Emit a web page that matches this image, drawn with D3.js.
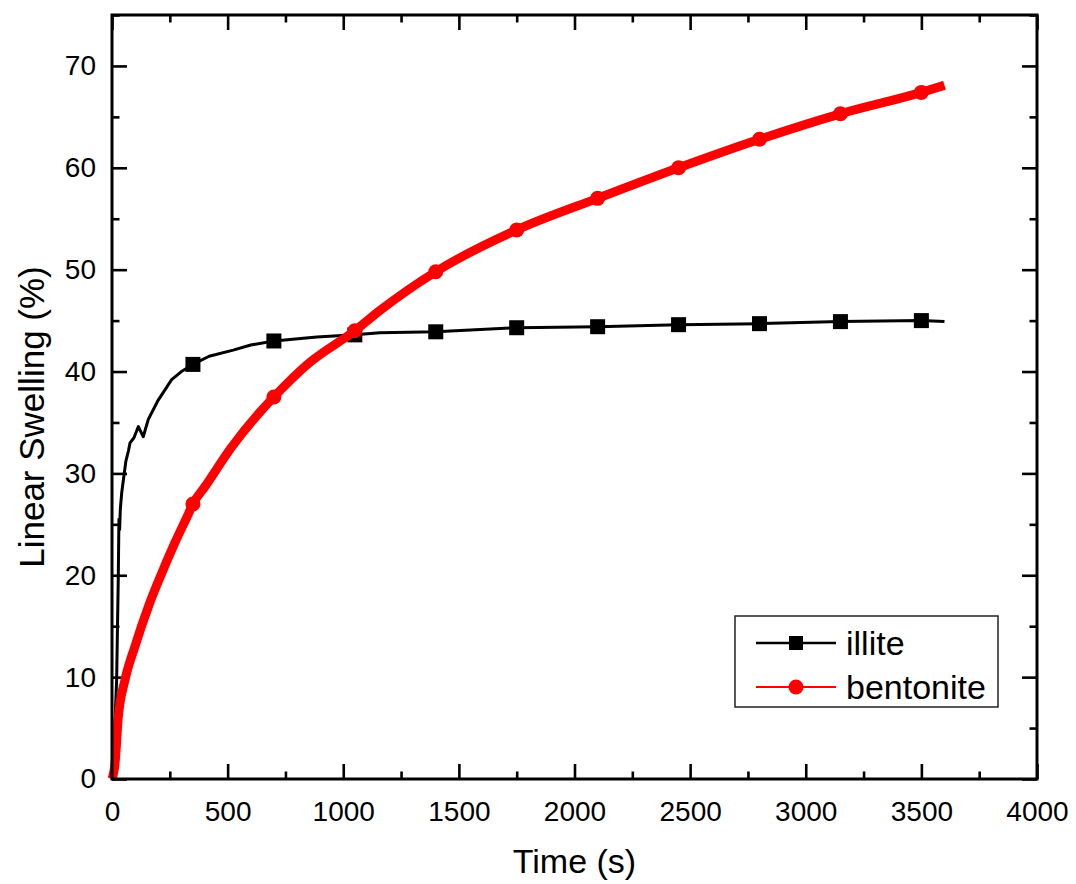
<!DOCTYPE html>
<html>
<head>
<meta charset="utf-8">
<script src="https://cdn.jsdelivr.net/npm/d3@7"></script>
<style>
  body { margin: 0; background: #fff; }
  svg { display: block; font-family: "Liberation Sans", Arial, sans-serif; }
</style>
</head>
<body>
<svg id="container"></svg>
<script>
// series (time in s, swelling in %)
const illiteTime  = [0, 5, 12, 20, 27, 30, 33, 36, 42, 50, 60, 71, 78, 95, 114, 135, 157, 200, 258, 300, 350, 420, 524, 600, 700, 886, 1050, 1159, 1400, 1750, 2100, 2450, 2800, 3150, 3500, 3600];
const illiteValue = [0, 0.5, 5, 9.7, 19.5, 25.5, 24.5, 26.5, 28.1, 29.5, 31.2, 32.2, 33.0, 33.5, 34.6, 33.6, 35.3, 37.2, 39.2, 40.0, 40.7, 41.5, 42.1, 42.6, 43.0, 43.4, 43.6, 43.8, 43.9, 44.3, 44.4, 44.6, 44.7, 44.9, 45.0, 44.9];

const bentTime  = [0, 13, 27, 56, 99, 157, 215, 272, 330, 350, 402, 518, 647, 700, 850, 1050, 1159, 1400, 1750, 2100, 2450, 2800, 3150, 3500, 3600];
const bentValue = [0, 1.5, 6.0, 9.7, 13.0, 16.9, 20.2, 23.2, 26.0, 27.0, 28.7, 32.6, 36.2, 37.5, 40.8, 44.0, 46.0, 49.8, 53.9, 57.0, 60.0, 62.8, 65.3, 67.4, 68.1];

const markerTimes = [350, 700, 1050, 1400, 1750, 2100, 2450, 2800, 3150, 3500];

const xTicks = [0, 500, 1000, 1500, 2000, 2500, 3000, 3500, 4000];
const yTicks = [0, 10, 20, 30, 40, 50, 60, 70];

const seriesNames = ["illite", "bentonite"];

const width = 1076, height = 884;
const mLeft = 112, mRight = 1037, mTop = 15, mBottom = 779;

const svg = d3.select("#container")
    .attr("width", width)
    .attr("height", height);

svg.append("rect").attr("width", width).attr("height", height).attr("fill", "#fff");

const x = d3.scaleLinear().domain([0, 4000]).range([mLeft, mRight]);
const y = d3.scaleLinear().domain([0, 75]).range([mBottom, mTop]);

const xMinor = d3.range(0, 4001, 250).filter(v => v % 500 !== 0);
const yMinor = d3.range(0, 76, 5).filter(v => v % 10 !== 0);

// axes, ticks pointing inward on all four sides
function styleAxis(g) {
    g.select(".domain").remove();
    g.selectAll(".tick line").attr("stroke", "#000").attr("stroke-width", 2.6);
    g.selectAll(".tick text").attr("fill", "#000").attr("font-size", 28)
        .attr("font-family", "Liberation Sans, Arial, sans-serif");
}

svg.append("g").attr("transform", `translate(0,${mBottom})`)
    .call(d3.axisBottom(x).tickValues(xTicks).tickSize(-15).tickPadding(22).tickFormat(d3.format("d")))
    .call(styleAxis);
svg.append("g").attr("transform", `translate(0,${mBottom})`)
    .call(d3.axisBottom(x).tickValues(xMinor).tickSize(-7.5).tickFormat(""))
    .call(styleAxis);
svg.append("g").attr("transform", `translate(0,${mTop})`)
    .call(d3.axisTop(x).tickValues(xTicks).tickSize(-15).tickFormat(""))
    .call(styleAxis);
svg.append("g").attr("transform", `translate(0,${mTop})`)
    .call(d3.axisTop(x).tickValues(xMinor).tickSize(-7.5).tickFormat(""))
    .call(styleAxis);

svg.append("g").attr("transform", `translate(${mLeft},0)`)
    .call(d3.axisLeft(y).tickValues(yTicks).tickSize(-15).tickPadding(16).tickFormat(d3.format("d")))
    .call(styleAxis);
svg.append("g").attr("transform", `translate(${mLeft},0)`)
    .call(d3.axisLeft(y).tickValues(yMinor).tickSize(-7.5).tickFormat(""))
    .call(styleAxis);
svg.append("g").attr("transform", `translate(${mRight},0)`)
    .call(d3.axisRight(y).tickValues(yTicks).tickSize(-15).tickFormat(""))
    .call(styleAxis);
svg.append("g").attr("transform", `translate(${mRight},0)`)
    .call(d3.axisRight(y).tickValues(yMinor).tickSize(-7.5).tickFormat(""))
    .call(styleAxis);

// axis titles
svg.append("text")
    .attr("x", (mLeft + mRight) / 2).attr("y", 873)
    .attr("text-anchor", "middle").attr("font-size", 34)
    .text("Time (s)");
svg.append("text")
    .attr("transform", `translate(44,${(mTop + mBottom) / 2 + 20}) rotate(-90)`)
    .attr("text-anchor", "middle").attr("font-size", 35)
    .text("Linear Swelling (%)");

// data
const illite = illiteTime.map((t, i) => ({t, v: illiteValue[i]}));
const bent = bentTime.map((t, i) => ({t, v: bentValue[i]}));

const lineLin = d3.line().x(d => x(d.t)).y(d => y(d.v));
const lineSmooth = d3.line().x(d => x(d.t)).y(d => y(d.v)).curve(d3.curveMonotoneX);

svg.append("path").datum(illite)
    .attr("d", lineLin)
    .attr("fill", "none").attr("stroke", "#000").attr("stroke-width", 3)
    .attr("stroke-linejoin", "round");

svg.append("g").selectAll("rect")
    .data(illite.filter(d => markerTimes.includes(d.t)))
    .join("rect")
    .attr("x", d => x(d.t) - 7.5).attr("y", d => y(d.v) - 7.5)
    .attr("width", 15).attr("height", 15)
    .attr("fill", "#000");

svg.append("path").datum(bent)
    .attr("d", lineSmooth)
    .attr("fill", "none").attr("stroke", "#ff0000").attr("stroke-width", 9)
    .attr("stroke-linejoin", "round");

svg.append("g").selectAll("circle")
    .data(bent.filter(d => markerTimes.includes(d.t)))
    .join("circle")
    .attr("cx", d => x(d.t)).attr("cy", d => y(d.v))
    .attr("r", 7.5)
    .attr("fill", "#ff0000");

// frame
svg.append("rect")
    .attr("x", mLeft).attr("y", mTop)
    .attr("width", mRight - mLeft).attr("height", mBottom - mTop)
    .attr("fill", "none").attr("stroke", "#000").attr("stroke-width", 3);

// legend
const legend = svg.append("g");
legend.append("rect")
    .attr("x", 735).attr("y", 616).attr("width", 263).attr("height", 91)
    .attr("fill", "#fff").attr("stroke", "#222").attr("stroke-width", 1.5);

const legendColors = ["#000", "#ff0000"];
seriesNames.forEach((name, i) => {
    const ly = 643 + i * 44;
    const g = legend.append("g");
    g.append("line")
        .attr("x1", 756).attr("x2", 836).attr("y1", ly).attr("y2", ly)
        .attr("stroke", legendColors[i]).attr("stroke-width", i === 0 ? 2.5 : 2);
    if (i === 0) {
        g.append("rect").attr("x", 789).attr("y", ly - 7).attr("width", 14).attr("height", 14).attr("fill", "#000");
    } else {
        g.append("circle").attr("cx", 796).attr("cy", ly).attr("r", 7.5).attr("fill", "#ff0000");
    }
    g.append("text")
        .attr("x", 846).attr("y", ly + 12)
        .attr("font-size", 34)
        .text(name);
});
</script>
</body>
</html>
